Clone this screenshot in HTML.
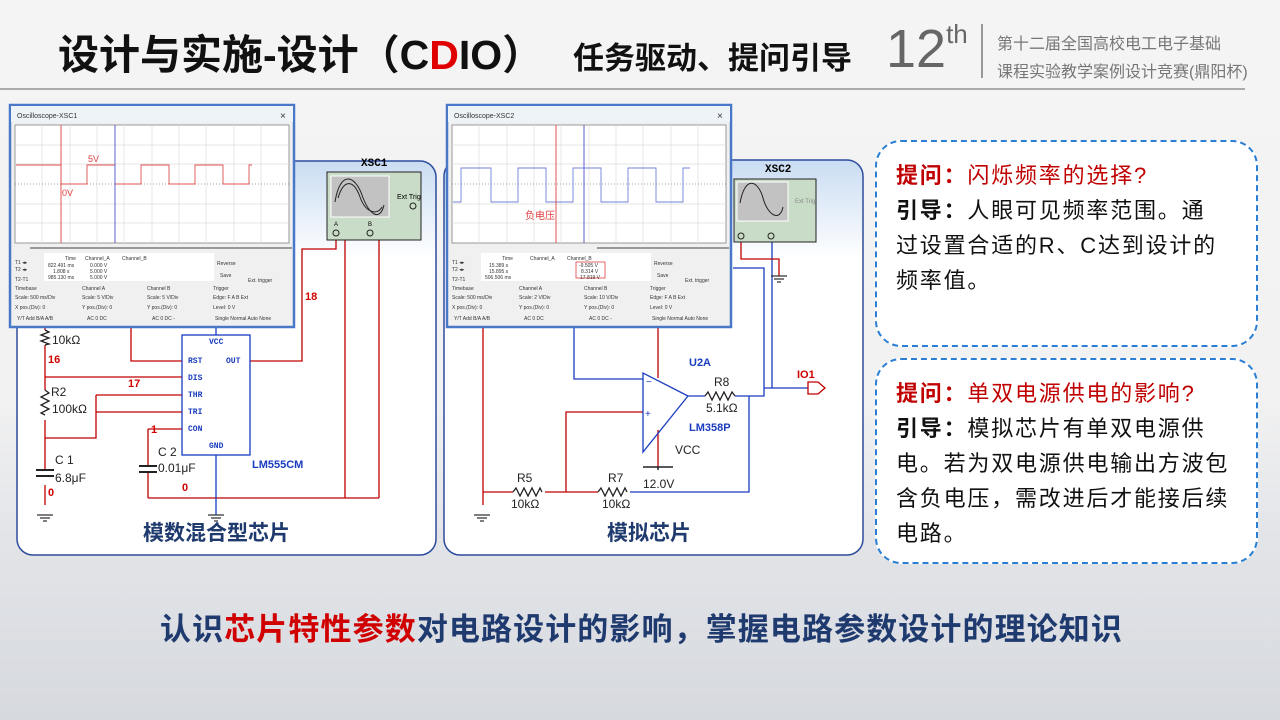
<!DOCTYPE html>
<html><head><meta charset="utf-8"><style>
body{margin:0;width:1280px;height:720px;overflow:hidden;font-family:"Liberation Sans","Noto Sans CJK SC",sans-serif;}
#bg{position:absolute;left:0;top:0;width:1280px;height:720px;background:linear-gradient(180deg,#f4f4f4 0%,#f2f2f2 55%,#e2e4e8 75%,#d6d9de 100%);}
.abs{position:absolute;white-space:nowrap;}
.qbox{position:absolute;border:2.5px dashed #2a7fd4;border-radius:26px;background:#fff;box-sizing:border-box;padding:16px 0 0 19px;font-size:22px;line-height:35px;color:#111;letter-spacing:1.8px;white-space:nowrap;}
.qbox b.r{color:#c00000}
.qbox span.r{color:#c00000}
</style></head><body>
<div id="bg"></div>
<div class="abs" style="left:58px;top:21px;font-size:41px;font-weight:bold;color:#111;">设计与实施-设计（C<span style="color:#e00000">D</span>IO）</div>
<div class="abs" style="left:573px;top:33px;font-size:31px;font-weight:bold;color:#111;">任务驱动、提问引导</div>
<div class="abs" style="left:886px;top:18px;font-size:54px;color:#666;font-weight:300;">12<sup style="font-size:26px;vertical-align:24px;">th</sup></div>
<div class="abs" style="left:981px;top:24px;width:2px;height:54px;background:#999;"></div>
<div class="abs" style="left:997px;top:31px;font-size:16px;color:#777;line-height:28px;">第十二届全国高校电工电子基础<br>课程实验教学案例设计竞赛(鼎阳杯)</div>
<div class="abs" style="left:0;top:88px;width:1245px;height:2px;background:#aaa;"></div>

<svg class="abs" style="left:0;top:0" width="1280" height="720" viewBox="0 0 1280 720" font-family="Liberation Sans, Noto Sans CJK SC, sans-serif">
<defs>
<linearGradient id="pg" x1="0" y1="0" x2="0" y2="1"><stop offset="0" stop-color="#c9dcf2"/><stop offset="0.25" stop-color="#ffffff"/><stop offset="1" stop-color="#ffffff"/></linearGradient>
</defs>
<rect x="17" y="161" width="419" height="394" rx="16" fill="url(#pg)" stroke="#2c4c9c" stroke-width="1.5"/>
<rect x="444" y="160" width="419" height="395" rx="16" fill="url(#pg)" stroke="#2c4c9c" stroke-width="1.5"/>

<g fill="none" stroke-width="1.3">
<path d="M250 361H302V249H336V236" stroke="#c00000"/>
<path d="M345 240V498M379 240V498M148 498H379" stroke="#c00000"/>
<path d="M216 455V515" stroke="#1a3cc0"/>
<path d="M131 327V361H182" stroke="#c00000"/>
<path d="M216 327V335" stroke="#1a3cc0"/>
<path d="M45 327V330M45 345V390M45 420V470M45 485V505" stroke="#c00000"/>
<path d="M45 377H182M96 395H182M96 395V438H45M96 412H182M148 429H182M148 429V466M148 472V498" stroke="#c00000"/>
<path d="M45 330l4 2l-8 3l8 3l-8 3l8 3l-4 1M45 390l4 3l-8 4l8 4l-8 4l8 4l-8 4l4 2" stroke="#222"/>
<path d="M36 470H54M36 476H54M139 466H157M139 472H157" stroke="#222" stroke-width="2"/>
<path d="M37 515H53M40 518H50M43 521H47M208 515H224M211 518H221M214 521H218M474 515H490M477 518H487M480 521H484" stroke="#333"/>
<rect x="182" y="335" width="68" height="120" stroke="#1a3cc0" fill="#fff"/>
</g>
<g font-family="Liberation Mono,monospace" font-size="8" fill="#1a3cc0" font-weight="bold">
<text x="209" y="344">VCC</text><text x="188" y="363">RST</text><text x="226" y="363">OUT</text>
<text x="188" y="380">DIS</text><text x="188" y="397">THR</text><text x="188" y="414">TRI</text>
<text x="188" y="431">CON</text><text x="209" y="448">GND</text>
</g>
<text x="252" y="468" font-size="11" font-weight="bold" fill="#1a3cc0">LM555CM</text>
<g font-size="12" fill="#222">
<text x="52" y="344">10kΩ</text><text x="51" y="396">R2</text><text x="52" y="413">100kΩ</text>
<text x="55" y="464">C 1</text><text x="55" y="482">6.8μF</text>
<text x="158" y="456">C 2</text><text x="158" y="472">0.01μF</text>
</g>
<g font-size="11" fill="#d00000" font-weight="bold">
<text x="48" y="363">16</text><text x="128" y="387">17</text><text x="151" y="433">1</text>
<text x="48" y="496">0</text><text x="182" y="491">0</text><text x="305" y="300">18</text>
</g>
<text x="361" y="166" font-size="11" font-weight="bold" font-family="Liberation Mono,monospace">XSC1</text>
<rect x="327" y="172" width="94" height="68" fill="#c8dcc8" stroke="#222"/>
<rect x="331" y="176" width="58" height="41" fill="#c2c2c2" stroke="#fff"/>
<path d="M335 202C340 170 355 175 362 195S380 222 384 205" fill="none" stroke="#222"/>
<path d="M338 198C344 178 354 180 360 197S378 215 382 207" fill="none" stroke="#222"/>
<text x="397" y="199" font-size="7">Ext Trig</text>
<circle cx="336" cy="233" r="3" fill="none" stroke="#222"/><circle cx="370" cy="233" r="3" fill="none" stroke="#222"/>
<circle cx="413" cy="206" r="3" fill="none" stroke="#222"/>
<text x="334" y="226" font-size="6">A</text><text x="368" y="226" font-size="6">B</text>
<text x="143" y="540" font-size="21" font-weight="bold" fill="#1f3a6e">模数混合型芯片</text>

<g fill="none" stroke-width="1.3">
<path d="M574 327V379H643" stroke="#1a3cc0"/>
<path d="M658 327V378" stroke="#c00000"/>
<path d="M658 430V467" stroke="#c00000"/>
<path d="M643 467H673M658 467V470" stroke="#222" stroke-width="1.5"/>
<path d="M688 396H705M735 396H749V492H630" stroke="#1a3cc0"/>
<path d="M749 396H764V268H733M764 388H808M772 236V388" stroke="#1a3cc0"/>
<path d="M741 236V259H779V276" stroke="#c00000"/>
<path d="M808 382H818L825 388L818 394H808Z" stroke="#c00000"/>
<path d="M483 327V505M483 492H513M545 492H598M566 492V412H643" stroke="#c00000"/>
<path d="M705 396l3-4l4 8l4-8l4 8l4-8l4 8l4-8l3 4M513 492l3-4l4 8l4-8l4 8l4-8l4 8l4-8l2 4M598 492l3-4l4 8l4-8l4 8l4-8l4 8l4-8l2 4" stroke="#222"/>
<path d="M643 373V452L688 396Z" stroke="#1a3cc0"/>
<path d="M771 276H787M774 279H784M777 282H781" stroke="#333"/>
</g>
<text x="646" y="385" font-size="10" fill="#1a3cc0">−</text><text x="645" y="417" font-size="10" fill="#1a3cc0">+</text>
<text x="689" y="366" font-size="11" font-weight="bold" fill="#1a3cc0">U2A</text>
<text x="689" y="431" font-size="11" font-weight="bold" fill="#1a3cc0">LM358P</text>
<g font-size="12" fill="#222">
<text x="714" y="386">R8</text><text x="706" y="412">5.1kΩ</text><text x="675" y="454">VCC</text>
<text x="643" y="488">12.0V</text><text x="517" y="482">R5</text><text x="511" y="508">10kΩ</text>
<text x="608" y="482">R7</text><text x="602" y="508">10kΩ</text>
</g>
<text x="797" y="378" font-size="11" font-weight="bold" fill="#d00000">IO1</text>
<text x="765" y="172" font-size="11" font-weight="bold" font-family="Liberation Mono,monospace">XSC2</text>
<rect x="734" y="179" width="82" height="63" fill="#c8dcc8" stroke="#222"/>
<rect x="737" y="182" width="51" height="39" fill="#c2c2c2" stroke="#fff"/>
<path d="M740 203C745 175 758 180 763 198S780 222 783 207" fill="none" stroke="#222"/>
<text x="795" y="203" font-size="6" fill="#888">Ext Trig</text>
<circle cx="741" cy="236" r="3" fill="none" stroke="#222"/><circle cx="771" cy="236" r="3" fill="none" stroke="#222"/>
<text x="607" y="540" font-size="21" font-weight="bold" fill="#1f3a6e">模拟芯片</text>

<g transform="translate(10,105)">
<rect x="0" y="0" width="284" height="222" fill="#f0f0f0" stroke="#4a78c8" stroke-width="2.5"/>
<rect x="1" y="1" width="282" height="16" fill="#eef3f8"/>
<text x="7" y="13" font-size="7" fill="#333">Oscilloscope-XSC1</text><text x="270" y="14" font-size="10" fill="#333">×</text>
<rect x="5" y="20" width="274" height="118" fill="#fff" stroke="#999"/>
<path d="M32 20V138M60 20V138M87 20V138M114 20V138M142 20V138M169 20V138M196 20V138M224 20V138M251 20V138M5 40H279M5 59H279M5 99H279M5 118H279" stroke="#ddd" stroke-width="0.7" fill="none"/>
<path d="M5 79H279" stroke="#888" stroke-width="0.7" stroke-dasharray="1 2"/>
<path d="M6 60H51V79H77V60H105V79H131V60H159V79H185V60H213V79H239V60H242" fill="none" stroke="#e05050" stroke-width="0.9"/>
<path d="M51 20V138" stroke="#e05050"/><path d="M105 20V138" stroke="#6060d0"/>
<text x="78" y="57" font-size="9" fill="#e04040">5V</text><text x="52" y="91" font-size="9" fill="#e04040">0V</text>
<rect x="20" y="142" width="262" height="2" fill="#999"/>
<rect x="34" y="148" width="170" height="28" fill="#fff"/>
<g font-size="5" fill="#333">
<text x="5" y="159">T1  ◂▸</text><text x="5" y="166">T2  ◂▸</text><text x="5" y="176">T2-T1</text>
<text x="55" y="155">Time</text><text x="75" y="155">Channel_A</text><text x="112" y="155">Channel_B</text>
<text x="38" y="162">822.491 ms</text><text x="80" y="162">0.000 V</text>
<text x="43" y="168">1.808 s</text><text x="80" y="168">5.000 V</text>
<text x="38" y="174">985.130 ms</text><text x="80" y="174">5.000 V</text>
<text x="207" y="160">Reverse</text><text x="210" y="172">Save</text><text x="238" y="177">Ext. trigger</text>
<text x="5" y="185">Timebase</text><text x="72" y="185">Channel A</text><text x="137" y="185">Channel B</text><text x="203" y="185">Trigger</text>
<text x="5" y="194">Scale: 500 ms/Div</text><text x="72" y="194">Scale: 5 V/Div</text><text x="137" y="194">Scale: 5 V/Div</text><text x="203" y="194">Edge: F  A B Ext</text>
<text x="5" y="204">X pos.(Div): 0</text><text x="72" y="204">Y pos.(Div): 0</text><text x="137" y="204">Y pos.(Div): 0</text><text x="203" y="204">Level: 0      V</text>
<text x="7" y="215">Y/T Add B/A A/B</text><text x="77" y="215">AC 0 DC</text><text x="142" y="215">AC 0 DC -</text><text x="205" y="215">Single Normal Auto None</text>
</g>
</g>
<g transform="translate(447,105)">
<rect x="0" y="0" width="284" height="222" fill="#f0f0f0" stroke="#4a78c8" stroke-width="2.5"/>
<rect x="1" y="1" width="282" height="16" fill="#eef3f8"/>
<text x="7" y="13" font-size="7" fill="#333">Oscilloscope-XSC2</text><text x="270" y="14" font-size="10" fill="#333">×</text>
<rect x="5" y="20" width="274" height="118" fill="#fff" stroke="#999"/>
<path d="M32 20V138M60 20V138M87 20V138M114 20V138M142 20V138M169 20V138M196 20V138M224 20V138M251 20V138M5 40H279M5 59H279M5 99H279M5 118H279" stroke="#ddd" stroke-width="0.7" fill="none"/>
<path d="M5 79H279" stroke="#888" stroke-width="0.7" stroke-dasharray="1 2"/>
<path d="M6 97H14V63H44V97H71V63H99V97H126V63H154V97H181V63H209V97H236V63H243" fill="none" stroke="#7080d8" stroke-width="0.9"/>
<path d="M109 20V138" stroke="#e05050"/><path d="M137 20V138" stroke="#6060d0"/>
<text x="78" y="114" font-size="10" fill="#e04040">负电压</text>
<rect x="150" y="142" width="132" height="2" fill="#999"/>
<rect x="34" y="148" width="170" height="28" fill="#fff"/>
<rect x="129" y="157" width="29" height="16" fill="none" stroke="#e04040" stroke-width="0.8"/>
<g font-size="5" fill="#333">
<text x="5" y="159">T1  ◂▸</text><text x="5" y="166">T2  ◂▸</text><text x="5" y="176">T2-T1</text>
<text x="55" y="155">Time</text><text x="83" y="155">Channel_A</text><text x="120" y="155">Channel_B</text>
<text x="42" y="162">15.389 s</text><text x="132" y="162">-9.505 V</text>
<text x="42" y="168">15.895 s</text><text x="134" y="168">8.314 V</text>
<text x="38" y="174">506.506 ms</text><text x="133" y="174">17.819 V</text>
<text x="207" y="160">Reverse</text><text x="210" y="172">Save</text><text x="238" y="177">Ext. trigger</text>
<text x="5" y="185">Timebase</text><text x="72" y="185">Channel A</text><text x="137" y="185">Channel B</text><text x="203" y="185">Trigger</text>
<text x="5" y="194">Scale: 500 ms/Div</text><text x="72" y="194">Scale: 2 V/Div</text><text x="137" y="194">Scale: 10 V/Div</text><text x="203" y="194">Edge: F  A B Ext</text>
<text x="5" y="204">X pos.(Div): 0</text><text x="72" y="204">Y pos.(Div): 0</text><text x="137" y="204">Y pos.(Div): 0</text><text x="203" y="204">Level: 0      V</text>
<text x="7" y="215">Y/T Add B/A A/B</text><text x="77" y="215">AC 0 DC</text><text x="142" y="215">AC 0 DC -</text><text x="205" y="215">Single Normal Auto None</text>
</g>
</g>
</svg>

<div class="qbox" style="left:875px;top:140px;width:383px;height:207px;"><b class="r">提问：</b><span class="r">闪烁频率的选择?</span><br><b>引导：</b>人眼可见频率范围。通<br>过设置合适的R、C达到设计的<br>频率值。</div>
<div class="qbox" style="left:875px;top:358px;width:383px;height:206px;"><b class="r">提问：</b><span class="r">单双电源供电的影响?</span><br><b>引导：</b>模拟芯片有单双电源供<br>电。若为双电源供电输出方波包<br>含负电压，需改进后才能接后续<br>电路。</div>

<div class="abs" style="left:160px;top:604px;font-size:31px;font-weight:bold;color:#1f3a6e;letter-spacing:1.1px;">认识<span style="color:#d00000">芯片特性参数</span>对电路设计的影响，掌握电路参数设计的理论知识</div>
</body></html>
